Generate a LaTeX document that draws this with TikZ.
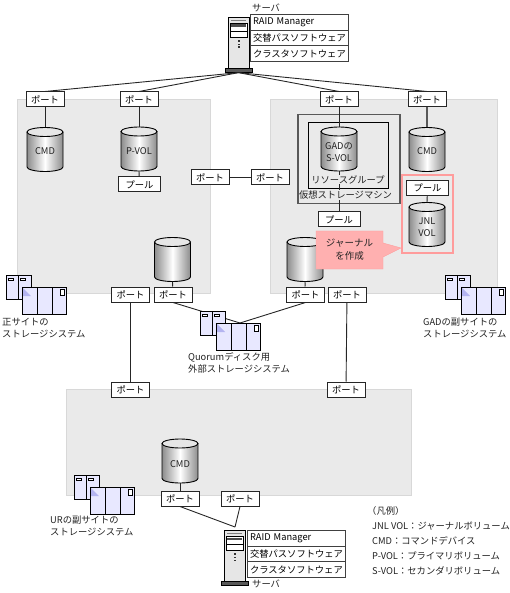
\documentclass[tikz,border=0pt]{standalone}
\usepackage{fontspec}
\setmainfont{Noto Sans CJK JP}
\usepackage{xcolor}
\usepackage{tikz}
\usetikzlibrary{
  positioning,
  calc,
}
\definecolor{areagray}{HTML}{EAEAEA}
\definecolor{arealine}{HTML}{D8D8D8}
\definecolor{bodygray}{HTML}{E6E6E6}
\definecolor{cyledge}{HTML}{8C8C8C}
\definecolor{hilite}{HTML}{FF9C9C}
\definecolor{callfill}{HTML}{FFB0B0}
\definecolor{unitblue}{HTML}{E8E8FF}
\definecolor{markblue}{HTML}{B4B4F0}
\definecolor{textgray}{HTML}{222222}
\newcommand{\fsmall}{\fontsize{9.3}{12}\selectfont}
\tikzset{
  area/.style={draw=arealine, fill=areagray, anchor=north west, inner sep=0pt},
  portbox/.style={draw=black!85, line width=1pt, fill=white, minimum width=38pt, minimum height=15pt, inner sep=0pt},
  poolbox/.style={portbox, minimum width=42pt},
  link/.style={line width=.9pt, black!85},
  softrow/.style={draw=black!75, line width=1pt, fill=white, minimum width=98pt, minimum height=15.5pt, inner sep=0pt, outer sep=0pt, inner xsep=3pt, text width=92pt, align=left},
  cyltext/.style={align=center, text=textgray, inner sep=0pt},
  caption/.style={anchor=west, align=left, text=textgray, inner sep=0pt},
  pics/vol/.style={code={
    \path[left color=cyledge, right color=cyledge, middle color=white]
      (-18,4.5) -- (-18,39.5) arc[start angle=180, end angle=360, x radius=18pt, y radius=4.5pt]
      -- (18,4.5) arc[start angle=0, end angle=180, x radius=18pt, y radius=4.5pt] -- cycle;
    \draw[line width=.9pt] (-18,4.5) -- (-18,39.5) arc[start angle=180, end angle=360, x radius=18pt, y radius=4.5pt] -- (18,4.5);
    \draw[fill=bodygray, line width=.9pt] (0,4.5) ellipse[x radius=18pt, y radius=4.5pt];
    \coordinate (-top) at (0,0);
    \coordinate (-bottom) at (0,44);
  }},
  pics/server/.style={code={
    \draw[fill=bodygray, line width=.9pt] (0,0) rectangle (21,51);
    \draw[gray] (3,3.5) -- (18,3.5);
    \draw[fill=white, line width=.8pt] (2,6) rectangle (19,20);
    \fill[black!70] (3,7.5) rectangle (18,10);
    \draw (2,14) -- (19,14);
    \fill[black!80] (9.5,23) rectangle (11.5,25);
    \fill[black!80] (9.5,27) rectangle (11.5,28);
    \fill[black!80] (9.5,29.5) rectangle (11.5,31);
    \node[draw=black, fill=black!65, minimum width=27pt, minimum height=4.5pt, inner sep=0pt] (-base) at (10.5,53.2) {};
  }},
  pics/storage/.style={code={
    \draw[fill=unitblue, line width=.9pt] (0,0) rectangle (25,24);
    \draw[line width=.9pt] (12.5,0) -- (12.5,24);
    \draw[fill=white] (2,3) rectangle (7,5);
    \draw[fill=white] (14,3) rectangle (19,5);
    \draw[fill=unitblue, line width=.9pt] (16,12) rectangle (60,39);
    \draw[line width=.9pt] (31,12) -- (31,39) (46,12) -- (46,39);
    \fill[markblue] (17,13) -- (17,21) -- (25,21) -- cycle;
    \draw[fill=white, line width=.8pt] (54,14) rectangle (58,20);
  }},
}
\begin{document}
\begin{tikzpicture}[x=1pt, y=-1pt, every node/.style={font=\fsmall}]
  \useasboundingbox (0,0) rectangle (510,593);

  % storage areas
  \node[area, minimum width=193pt, minimum height=194pt] (areaa) at (17,99) {};
  \node[area, minimum width=227pt, minimum height=194pt] (areab) at (270,99) {};
  \node[area, minimum width=345pt, minimum height=106pt] (areac) at (66,389) {};

  % servers
  \pic (srva) at (228,17) {server};
  \pic (srvb) at (224,530) {server};
  \node[softrow] (rowa1) at (299,22.75) {RAID Manager};
  \node[softrow, below=0pt of rowa1] (rowa2) {交替パスソフトウェア};
  \node[softrow, below=0pt of rowa2] (rowa3) {クラスタソフトウェア};
  \node[caption] (srvalabel) at (252,8) {サーバ};
  \node[softrow] (rowb1) at (296,538.5) {RAID Manager};
  \node[softrow, below=0pt of rowb1] (rowb2) {交替パスソフトウェア};
  \node[softrow, below=0pt of rowb2] (rowb3) {クラスタソフトウェア};
  \node[caption] (srvblabel) at (252,584) {サーバ};

  % virtual machine
  \node[draw=black!65, line width=1.5pt, anchor=north west, minimum width=102pt, minimum height=89pt, inner sep=0pt] (vmbox) at (297,114) {};
  \node[draw=black, line width=.9pt, anchor=north west, minimum width=80pt, minimum height=66pt, inner sep=0pt] (rgbox) at (308,122) {};

  % ports
  \node[portbox] (porta) at (45,99.5) {ポート};
  \node[portbox] (portb) at (139,99.5) {ポート};
  \node[portbox] (portc) at (339,99.5) {ポート};
  \node[portbox] (portd) at (427,99.5) {ポート};
  \node[portbox] (porte) at (210,177.5) {ポート};
  \node[portbox] (portf) at (270,177.5) {ポート};
  \node[portbox] (portg) at (130.5,294.5) {ポート};
  \node[portbox] (porth) at (173,294.5) {ポート};
  \node[portbox] (porti) at (305.5,294.5) {ポート};
  \node[portbox] (portj) at (347,294.5) {ポート};
  \node[portbox] (portk) at (130.5,389.5) {ポート};
  \node[portbox] (portl) at (346,389.5) {ポート};
  \node[portbox] (portm) at (180,498.5) {ポート};
  \node[portbox] (portn) at (240,498.5) {ポート};

  % volumes
  \pic (cmda) at (45,127.5) {vol};
  \pic (pvol) at (139,127) {vol};
  \pic (svol) at (339,127) {vol};
  \pic (cmdb) at (427,127.5) {vol};
  \pic (jnl) at (427,202.5) {vol};
  \pic (vola) at (172.5,237.5) {vol};
  \pic (volb) at (305,237.5) {vol};
  \pic (cmdc) at (180,439) {vol};
  \node[cyltext] (cmdatext) at (45,151) {CMD};
  \node[cyltext] (pvoltext) at (139,151) {P-VOL};
  \node[cyltext] (svoltext) at (339,152) {GADの\\S-VOL};
  \node[cyltext] (cmdbtext) at (427,151) {CMD};
  \node[cyltext] (jnltext) at (427,227) {JNL\\VOL};
  \node[cyltext] (cmdctext) at (180,464) {CMD};

  % pools
  \node[poolbox] (poola) at (139.5,184.5) {プール};
  \node[poolbox] (poolb) at (339,219.5) {プール};
  \node[poolbox] (poolc) at (427.5,188) {プール};

  % highlight
  \draw[hilite, line width=2.5pt] (402,175) rectangle (453,253);

  % connectors
  \coordinate (joina) at (240,323);
  \coordinate (joinb) at (235,527);
  \draw[link] (srva-base.south) -- (porta.north);
  \draw[link] (srva-base.south) -- (portb.north);
  \draw[link] (srva-base.south) -- (portc.north);
  \draw[link] (srva-base.south) -- (portd.north);
  \draw[link] (porta) -- (cmda-top);
  \draw[link] (portb) -- (pvol-top);
  \draw[link] (portc) -- (svol-top);
  \draw[link, line width=1.4pt, black!65] (portd) -- (cmdb-top);
  \draw[link] (pvol-bottom) -- (poola);
  \draw[link] (svol-bottom) -- (poolb);
  \draw[link] (poolc) -- (jnl-top);
  \draw[link] (porte) -- (portf);
  \draw[link] (vola-bottom) -- (porth);
  \draw[link] (volb-bottom) -- (porti);
  \draw[link] (portg) -- (portk);
  \draw[link] (portj) -- (portl);
  \draw[link] (porth.south) -- (joina);
  \draw[link] (porti.south) -- (joina);
  \draw[link] (cmdc-bottom) -- (portm);
  \draw[link] (portm.south) -- (joinb);
  \draw[link] (portn.south) -- (joinb);

  % storage systems
  \pic at (6,275) {storage};
  \pic at (445,275) {storage};
  \pic at (200,311) {storage};
  \pic at (74,475) {storage};
  \node[caption] (labela) at (2,328) {正サイトの\\ストレージシステム};
  \node[caption] (labelb) at (423,328) {GADの副サイトの\\ストレージシステム};
  \node[caption] (labelc) at (188,363) {Quorumディスク用\\外部ストレージシステム};
  \node[caption] (labeld) at (50,526) {URの副サイトの\\ストレージシステム};

  % group titles
  \node[fill=areagray, text=textgray, inner sep=.5pt] (rglabel) at (348,179.5) {リソースグループ};
  \node[fill=areagray, text=textgray, inner sep=.5pt] (vmlabel) at (345.5,195) {仮想ストレージマシン};

  % callout
  \draw[hilite, fill=callfill] (316,231) -- (383,231) -- (383,243) -- (401,248) -- (383,257) -- (383,269) -- (316,269) -- cycle;
  \node[align=center, text=textgray, font=\fontsize{9.5}{13}\selectfont] (jnlnote) at (349.5,250) {ジャーナル\\を作成};

  % legend
  \node[caption] (legend0) at (367,511) {（凡例）};
  \node[caption] (legend1) at (372,526) {JNL VOL：ジャーナルボリューム};
  \node[caption] (legend2) at (372,541) {CMD：コマンドデバイス};
  \node[caption] (legend3) at (372,556) {P-VOL：プライマリボリューム};
  \node[caption] (legend4) at (372,571) {S-VOL：セカンダリボリューム};
\end{tikzpicture}
\end{document}
